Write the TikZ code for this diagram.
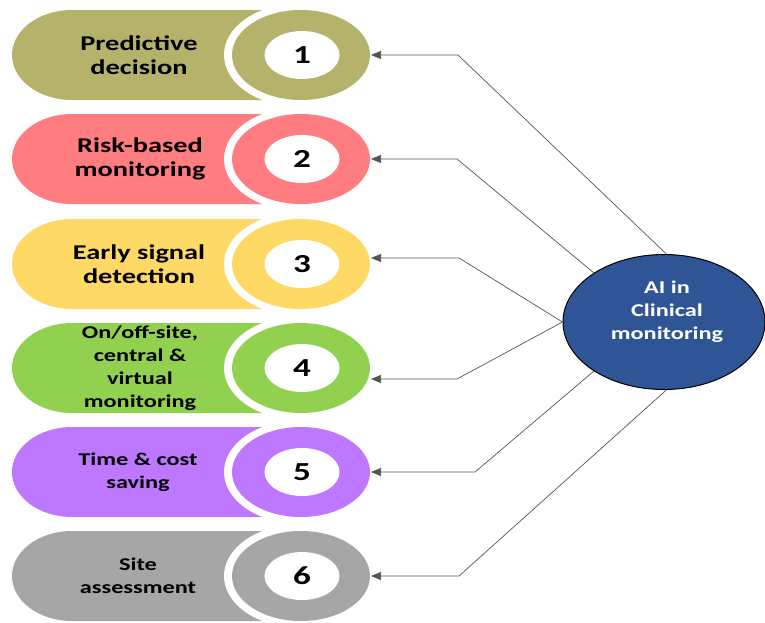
\documentclass[tikz,border=0pt]{standalone}
\usepackage{fontspec}
\setmainfont{Carlito}[FakeStretch=1.35]
\usetikzlibrary{arrows.meta,shapes.geometric}
\definecolor{cOne}{HTML}{B5B36B}
\definecolor{cTwo}{HTML}{FF7C80}
\definecolor{cThree}{HTML}{FFD966}
\definecolor{cFour}{HTML}{92D050}
\definecolor{cFive}{HTML}{BE78FF}
\definecolor{cSix}{HTML}{A6A6A6}
\definecolor{aiblue}{HTML}{2F5597}
\definecolor{linegray}{HTML}{555555}
\tikzset{
  gap/.style={ellipse,fill=white,minimum width=154pt,minimum height=104pt,inner sep=0pt},
  ringbox/.style={ellipse,minimum width=138pt,minimum height=90pt,inner sep=0pt},
  hole/.style={ellipse,fill=white,minimum width=75pt,minimum height=48pt,inner sep=0pt,
    font=\bfseries\fontsize{26}{28}\selectfont},
  lab/.style={align=center,inner sep=0pt,font=\bfseries\fontsize{21}{24}\selectfont},
  labsmall/.style={align=center,inner sep=0pt,font=\bfseries\fontsize{18}{23}\selectfont},
  conn/.style={draw=linegray,line width=0.7pt,-{Triangle[length=10pt,width=8pt]}},
}
\newcommand{\pillrow}[3]{%
  \fill[#2] (72,#1-45) -- (300,#1-45) -- (300,#1+45) -- (72,#1+45)
    arc[start angle=270,end angle=90,x radius=60pt,y radius=45pt] -- cycle;
  \node[gap] (g#3) at (301,#1) {};
  \node[ringbox,fill=#2] (r#3) at (301,#1) {};
  \node[hole] (h#3) at (302,#1) {#3};
}
\begin{document}
\begin{tikzpicture}[x=1pt,y=-1pt]
\useasboundingbox (0,0) rectangle (765,622);
\pillrow{55}{cOne}{1}
\pillrow{159}{cTwo}{2}
\pillrow{264}{cThree}{3}
\pillrow{368}{cFour}{4}
\pillrow{472}{cFive}{5}
\pillrow{576}{cSix}{6}

\node[lab] (t1) at (139,55) {Predictive\\decision};
\node[lab] (t2) at (140,159) {Risk-based\\monitoring};
\node[lab] (t3) at (139,264) {Early signal\\detection};
\node[labsmall] (t4) at (140,368) {On/off-site,\\central \&\\virtual\\monitoring};
\node[labsmall] (t5) at (138,472) {Time \& cost\\saving};
\node[labsmall] (t6) at (138,576) {Site\\assessment};

\node[ellipse,fill=aiblue,draw=black,line width=1pt,minimum width=202pt,minimum height=135pt,inner sep=0pt] (ai) at (664,322) {};
\node[labsmall,text=white] (ait) at (667,312) {AI in\\Clinical\\monitoring};

\coordinate (e1) at (458,55);   \coordinate (p1) at (371,55);
\coordinate (e2) at (457,159);  \coordinate (p2) at (371,159);
\coordinate (e3) at (459,258);  \coordinate (p3) at (371,258);
\coordinate (e4) at (457,379);  \coordinate (p4) at (371,379);
\coordinate (e5) at (475,472);  \coordinate (p5) at (371,472);
\coordinate (e6) at (459,576);  \coordinate (p6) at (371,576);

\draw[conn] (ai.88) -- (e1) -- (p1);
\draw[conn] (ai.145) -- (e2) -- (p2);
\draw[conn] (ai.180) -- (e3) -- (p3);
\draw[conn] (ai.180) -- (e4) -- (p4);
\draw[conn] (ai.215) -- (e5) -- (p5);
\draw[conn] (ai.272) -- (e6) -- (p6);
\end{tikzpicture}
\end{document}
